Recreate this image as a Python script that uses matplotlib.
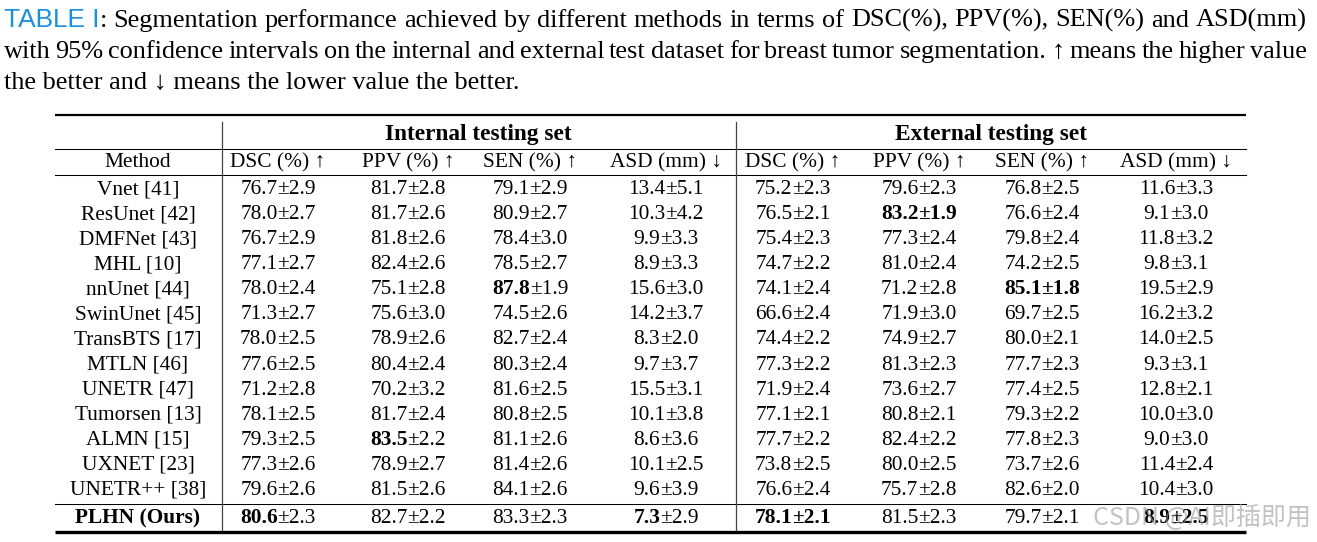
import matplotlib
matplotlib.use('Agg')
from matplotlib import pyplot as plt

# ---- data ----
methods = ['Vnet [41]', 'ResUnet [42]', 'DMFNet [43]', 'MHL [10]', 'nnUnet [44]',
           'SwinUnet [45]', 'TransBTS [17]', 'MTLN [46]', 'UNETR [47]',
           'Tumorsen [13]', 'ALMN [15]', 'UXNET [23]', 'UNETR++ [38]', 'PLHN (Ours)']

metrics = ['DSC (%) \u2191', 'PPV (%) \u2191', 'SEN (%) \u2191', 'ASD (mm) \u2193']
groups = ['Internal testing set', 'External testing set']

# mean values, columns: DSC PPV SEN ASD
int_mean = [[76.7, 81.7, 79.1, 13.4], [78.0, 81.7, 80.9, 10.3], [76.7, 81.8, 78.4, 9.9],
            [77.1, 82.4, 78.5, 8.9], [78.0, 75.1, 87.8, 15.6], [71.3, 75.6, 74.5, 14.2],
            [78.0, 78.9, 82.7, 8.3], [77.6, 80.4, 80.3, 9.7], [71.2, 70.2, 81.6, 15.5],
            [78.1, 81.7, 80.8, 10.1], [79.3, 83.5, 81.1, 8.6], [77.3, 78.9, 81.4, 10.1],
            [79.6, 81.5, 84.1, 9.6], [80.6, 82.7, 83.3, 7.3]]
int_ci = [[2.9, 2.8, 2.9, 5.1], [2.7, 2.6, 2.7, 4.2], [2.9, 2.6, 3.0, 3.3],
          [2.7, 2.6, 2.7, 3.3], [2.4, 2.8, 1.9, 3.0], [2.7, 3.0, 2.6, 3.7],
          [2.5, 2.6, 2.4, 2.0], [2.5, 2.4, 2.4, 3.7], [2.8, 3.2, 2.5, 3.1],
          [2.5, 2.4, 2.5, 3.8], [2.5, 2.2, 2.6, 3.6], [2.6, 2.7, 2.6, 2.5],
          [2.6, 2.6, 2.6, 3.9], [2.3, 2.2, 2.3, 2.9]]
ext_mean = [[75.2, 79.6, 76.8, 11.6], [76.5, 83.2, 76.6, 9.1], [75.4, 77.3, 79.8, 11.8],
            [74.7, 81.0, 74.2, 9.8], [74.1, 71.2, 85.1, 19.5], [66.6, 71.9, 69.7, 16.2],
            [74.4, 74.9, 80.0, 14.0], [77.3, 81.3, 77.7, 9.3], [71.9, 73.6, 77.4, 12.8],
            [77.1, 80.8, 79.3, 10.0], [77.7, 82.4, 77.8, 9.0], [73.8, 80.0, 73.7, 11.4],
            [76.6, 75.7, 82.6, 10.4], [78.1, 81.5, 79.7, 8.9]]
ext_ci = [[2.3, 2.3, 2.5, 3.3], [2.1, 1.9, 2.4, 3.0], [2.3, 2.4, 2.4, 3.2],
          [2.2, 2.4, 2.5, 3.1], [2.4, 2.8, 1.8, 2.9], [2.4, 3.0, 2.5, 3.2],
          [2.2, 2.7, 2.1, 2.5], [2.2, 2.3, 2.3, 3.1], [2.4, 2.7, 2.5, 2.1],
          [2.1, 2.1, 2.2, 3.0], [2.2, 2.2, 2.3, 3.0], [2.5, 2.5, 2.6, 2.4],
          [2.4, 2.8, 2.0, 3.0], [2.1, 2.3, 2.1, 2.5]]

# bold cells: (row, col) -> 'm' only mean bold, 'a' whole cell bold
int_bold = {(13, 0): 'm', (10, 1): 'm', (4, 2): 'm', (13, 3): 'm'}
ext_bold = {(1, 1): 'a', (4, 2): 'a', (13, 0): 'a', (13, 3): 'a'}

caption1 = ('Segmentation performance achieved by different methods in terms of '
            'DSC(%), PPV(%), SEN(%) and ASD(mm)')
caption2 = ('with 95% confidence intervals on the internal and external test dataset '
            'for breast tumor segmentation. \u2191 means the higher value')
caption3 = 'the better and \u2193 means the lower value the better.'

# ---- figure ----
W, H = 1317, 542
fig = plt.figure(figsize=(W / 100, H / 100), dpi=100)
ax = fig.add_axes([0, 0, 1, 1])
ax.set_xlim(0, W)
ax.set_ylim(H, 0)
ax.axis('off')
rend = fig.canvas.get_renderer()

SERIF = ['Liberation Serif', 'DejaVu Serif']
cap_fs = 18.9
tab_fs = 15.4
head_fs = 16.8


def width(t):
    return t.get_window_extent(rend).width


def put_runs(x, y, runs, fs, ha='left'):
    # runs: list of (text, weight, family, color)
    objs = []
    for s, w, fam, col in runs:
        objs.append(ax.text(0, y, s, fontsize=fs, fontweight=w, family=fam,
                            color=col, va='baseline', ha='left'))
    ws = [width(o) for o in objs]
    tot = sum(ws)
    x0 = x - tot / 2 if ha == 'center' else x
    for o, w in zip(objs, ws):
        o.set_x(x0)
        x0 += w
    return tot


def justify(words, y, x_left, x_right, fs):
    objs = []
    for wd in words:
        grp = []
        for s, w, fam, col in wd:
            grp.append(ax.text(0, y, s, fontsize=fs, fontweight=w, family=fam,
                               color=col, va='baseline', ha='left'))
        objs.append(grp)
    wds = [[width(o) for o in g] for g in objs]
    tot = sum(sum(w) for w in wds)
    gap = (x_right - x_left - tot) / (len(words) - 1)
    x0 = x_left
    for g, ws in zip(objs, wds):
        for o, w in zip(g, ws):
            o.set_x(x0)
            x0 += w
        x0 += gap


def plain(s):
    return [(s, 'normal', SERIF, 'black')]


# caption
line1 = [[('TABLE I', 'normal', ['Liberation Sans'], '#1a8ee0'),
          (':', 'normal', SERIF, 'black')]] + [plain(w) for w in caption1.split(' ')]
justify(line1, 27, 4, 1307, cap_fs)
justify([plain(w) for w in caption2.split(' ')], 58, 4, 1307, cap_fs)
ax.text(4, 89, caption3, fontsize=cap_fs, family=SERIF, va='baseline', ha='left')

# table geometry
x_l, x_r = 55, 1246
x_v = [221.5, 735.5]
method_x = 138
col_x = [[278, 408, 530, 666], [793, 919, 1042, 1176]]
group_x = [478, 991]
y_head1, y_head2 = 133, 160
row_y = [187 + 25.08 * i for i in range(13)] + [516]
off = 7  # centre -> baseline

# rules
ax.plot([x_l, x_r], [114.5, 114.5], color='black', lw=1.6, solid_capstyle='butt')
ax.plot([x_l, x_r], [148.5, 148.5], color='black', lw=0.75)
ax.plot([x_l, x_r], [174.5, 174.5], color='black', lw=0.75)
ax.plot([x_l, x_r], [503.5, 503.5], color='black', lw=0.75)
ax.plot([x_l, x_r], [531.5, 531.5], color='black', lw=2.4, solid_capstyle='butt')
for xv in x_v:
    ax.plot([xv, xv], [122, 530], color='#444444', lw=0.9)

# header
for g, gx in zip(groups, group_x):
    ax.text(gx, y_head1 + off, g, fontsize=head_fs, fontweight='bold', family=SERIF,
            ha='center', va='baseline')
ax.text(method_x, y_head2 + off, 'Method', fontsize=tab_fs, family=SERIF,
        ha='center', va='baseline')
for cols in col_x:
    for m, cx in zip(metrics, cols):
        ax.text(cx, y_head2 + off, m, fontsize=tab_fs, family=SERIF,
                ha='center', va='baseline')

# body
for i, name in enumerate(methods):
    y = row_y[i] + off
    ax.text(method_x, y, name, fontsize=tab_fs, family=SERIF, ha='center', va='baseline',
            fontweight='bold' if i == len(methods) - 1 else 'normal')
    for means, cis, bold, cols in [(int_mean, int_ci, int_bold, col_x[0]),
                                    (ext_mean, ext_ci, ext_bold, col_x[1])]:
        for j, cx in enumerate(cols):
            b = bold.get((i, j), '')
            w1 = 'bold' if b else 'normal'
            w2 = 'bold' if b == 'a' else 'normal'
            put_runs(cx, y, [('%.1f' % means[i][j], w1, SERIF, 'black'),
                             ('\u00b1%.1f' % cis[i][j], w2, SERIF, 'black')],
                     tab_fs, ha='center')

# watermark (overlaps the last cell in the reference too)
ax.text(1093, 518, 'CSDN @AI即插即用', fontsize=18, color='#9a9a9a', alpha=0.6,
        family=['Noto Sans CJK SC', 'DejaVu Sans'], ha='left', va='center')

fig.savefig('out.png', dpi=100)
